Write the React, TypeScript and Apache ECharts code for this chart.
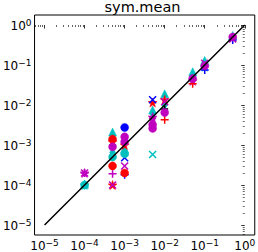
import React, { useEffect, useRef } from "react";
import * as echarts from "echarts";

// Reference line (identity)
const lineX = [1e-5, 1];
const lineY = [1e-5, 1];

// Scatter series: [x values], [y values]
const blueCircleX = [1e-3];
const blueCircleY = [2.75e-3];
const redCircleX = [5e-4, 5e-4, 1e-3];
const redCircleY = [1.4e-3, 3e-4, 2e-4];
const cyanCircleX = [1e-4, 5e-4, 1e-3];
const cyanCircleY = [1e-4, 5e-4, 6e-4];
const magentaCircleX = [5e-4, 1e-3, 1e-3, 5e-3, 5e-3, 1e-2, 5e-2, 1e-1, 5e-1];
const magentaCircleY = [9e-4, 1.6e-3, 1.2e-3, 3.2e-3, 2.6e-3, 6.5e-3, 4.6e-2, 9.5e-2, 5e-1];

const blueXX = [1e-3, 5e-3];
const blueXY = [4.8e-4, 1.35e-2];
const magentaXX = [1e-4, 5e-4, 1e-3, 5e-3, 1e-2, 1e-1, 5e-1];
const magentaXY = [2e-4, 1e-4, 3e-4, 4e-3, 1.2e-2, 1.1e-1, 4.5e-1];
const cyanXX = [5e-3];
const cyanXY = [5.8e-4];

const redStarX = [5e-4, 5e-4, 1e-3, 5e-3, 1e-2];
const redStarY = [1.2e-3, 1e-4, 1e-3, 1.15e-2, 1.35e-2];
const magentaStarX = [1e-4, 5e-3, 5e-2];
const magentaStarY = [2e-4, 5e-3, 4e-2];
const cyanStarX = [1e-4, 1e-1];
const cyanStarY = [1e-4, 9e-2];

const cyanTriangleX = [1e-4, 5e-4, 1e-3, 5e-3, 1e-2, 5e-2, 1e-1, 5e-1];
const cyanTriangleY = [1.05e-4, 2.1e-3, 8e-4, 7.5e-3, 1.9e-2, 6.8e-2, 1.3e-1, 5.5e-1];
const cyanDiamondX = [1e-4, 5e-4, 1e-3, 5e-3, 1e-2, 5e-2];
const cyanDiamondY = [1e-4, 6.5e-4, 7e-4, 6e-3, 1e-2, 5.5e-2];

const redPlusX = [1e-2, 5e-2];
const redPlusY = [4.3e-3, 3.4e-2];
const magentaPlusX = [5e-4, 1e-4];
const magentaPlusY = [1.9e-4, 2e-4];
const bluePlusX = [1e-3, 1e-1, 5e-1];
const bluePlusY = [1.8e-4, 7.5e-2, 4.2e-1];
const blackPlusX = [1e-2, 5e-4];
const blackPlusY = [8e-3, 1e-3];

const majorExponents = [-5, -4, -3, -2, -1, 0];
const axisMin = -5.25;
const axisMax = 0.25;

const BLUE = "#0000ff";
const RED = "#ff0000";
const CYAN = "#00bfbf";
const MAGENTA = "#bf00bf";
const BLACK = "#000000";

const X_PATH = "path://M0,0L10,10M10,0L0,10";
const PLUS_PATH = "path://M5,0L5,10M0,5L10,5";
const STAR_PATH =
  "path://M5,0L6.18,3.38L9.76,3.45L6.9,5.62L7.94,9.05L5,7L2.06,9.05L3.1,5.62L0.24,3.45L3.82,3.38Z";

function pts(xs: number[], ys: number[]) {
  return xs.map((x, i) => [Math.log10(x), Math.log10(ys[i])]);
}

function scatter(xs: number[], ys: number[], color: string, symbol: string, size: any, stroke = false) {
  return {
    type: "scatter",
    data: pts(xs, ys),
    symbol,
    symbolSize: size,
    itemStyle: stroke
      ? { color: "rgba(0,0,0,0)", borderColor: color, borderWidth: 1.5, opacity: 1 }
      : { color, borderColor: color, borderWidth: 0.5, opacity: 1 },
    emphasis: { disabled: true },
  };
}

const minorValues: number[] = [];
for (let d = -6; d <= 0; d++) {
  for (let k = 2; k <= 9; k++) {
    const v = d + Math.log10(k);
    if (v > axisMin && v < axisMax) minorValues.push(v);
  }
}

function fmt(v: number) {
  const e = Math.round(v);
  const s = e < 0 ? "\u2212" + Math.abs(e) : String(e);
  return "{b|10}{s|" + s + "}";
}

const labelRich = {
  b: { fontSize: 12, fontFamily: "DejaVu Sans", color: "#000", verticalAlign: "bottom" },
  s: { fontSize: 9, fontFamily: "DejaVu Sans", color: "#000", verticalAlign: "bottom", padding: [0, 0, 5, 0] },
};

function majorAxis(pos: string) {
  return {
    type: "value",
    position: pos,
    min: axisMin,
    max: axisMax,
    axisLine: { show: false },
    splitLine: { show: false },
    axisTick: {
      show: true,
      inside: false,
      length: 3.5,
      customValues: majorExponents,
      lineStyle: { color: "#000", width: 0.8 },
    },
    axisLabel: {
      show: true,
      customValues: majorExponents,
      formatter: fmt,
      rich: labelRich,
      margin: 3,
    },
  };
}

function minorAxis(pos: string) {
  return {
    type: "value",
    position: pos,
    min: axisMin,
    max: axisMax,
    axisLine: { show: false },
    splitLine: { show: false },
    axisTick: {
      show: true,
      inside: false,
      length: 2,
      customValues: minorValues,
      lineStyle: { color: "#000", width: 0.6 },
    },
    axisLabel: { show: false },
  };
}

export default function App() {
  const ref = useRef<HTMLDivElement>(null);
  useEffect(() => {
    if (!ref.current) return;
    const chart = echarts.init(ref.current, null, { renderer: "svg" });
    chart.setOption({
      animation: false,
      backgroundColor: "#ffffff",
      title: {
        text: "sym.mean",
        left: 142.5,
        top: 2,
        padding: 0,
        textAlign: "center",
        textStyle: {
          fontSize: 14.5,
          lineHeight: 10,
          fontWeight: "normal",
          fontFamily: "DejaVu Sans",
          color: "#000",
        },
      },
      grid: {
        left: 29,
        right: 2,
        top: 15,
        bottom: 15,
        show: true,
        borderColor: "#000",
        borderWidth: 1,
        backgroundColor: "transparent",
      },
      xAxis: [majorAxis("bottom"), minorAxis("bottom")],
      yAxis: [majorAxis("left"), minorAxis("left")],
      series: [
        scatter(cyanTriangleX, cyanTriangleY, CYAN, "triangle", 8),
        scatter(cyanDiamondX, cyanDiamondY, CYAN, "diamond", [6, 9]),
        scatter(redStarX, redStarY, RED, STAR_PATH, 9),
        scatter(magentaStarX, magentaStarY, MAGENTA, STAR_PATH, 9),
        scatter(cyanStarX, cyanStarY, CYAN, STAR_PATH, 9),
        scatter(blueXX, blueXY, BLUE, X_PATH, 7, true),
        scatter(magentaXX, magentaXY, MAGENTA, X_PATH, 7, true),
        scatter(cyanXX, cyanXY, CYAN, X_PATH, 7, true),
        scatter(redPlusX, redPlusY, RED, PLUS_PATH, 8, true),
        scatter(magentaPlusX, magentaPlusY, MAGENTA, PLUS_PATH, 8, true),
        scatter(bluePlusX, bluePlusY, BLUE, PLUS_PATH, 8, true),
        scatter(blackPlusX, blackPlusY, BLACK, PLUS_PATH, 7, true),
        scatter(blueCircleX, blueCircleY, BLUE, "circle", 8),
        scatter(redCircleX, redCircleY, RED, "circle", 8),
        scatter(cyanCircleX, cyanCircleY, CYAN, "circle", 8),
        scatter(magentaCircleX, magentaCircleY, MAGENTA, "circle", 8),
        {
          type: "line",
          data: pts(lineX, lineY),
          symbol: "none",
          lineStyle: { color: "#000", width: 1.5 },
          emphasis: { disabled: true },
          z: 5,
        },
      ],
    });
    return () => chart.dispose();
  }, []);
  return (
    <div
      ref={ref}
      style={{ position: "fixed", left: 0, top: 0, width: 258, height: 252, background: "#fff" }}
    />
  );
}
